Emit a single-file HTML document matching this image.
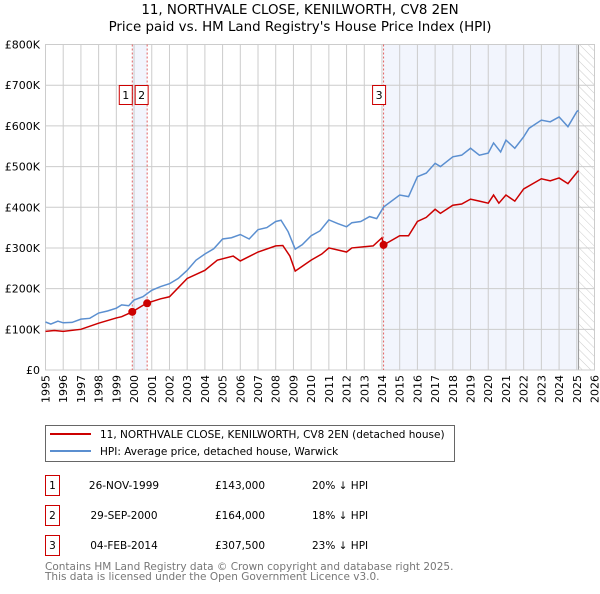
<!DOCTYPE html>
<html><head><meta charset="utf-8"><style>
body{margin:0;background:#fff;font-family:"DejaVu Sans","Liberation Sans",sans-serif;}
svg text{font-family:"DejaVu Sans","Liberation Sans",sans-serif;}
</style></head><body>
<svg id="chart" width="600" height="590" xmlns="http://www.w3.org/2000/svg">
<defs><pattern id="hatch" width="6" height="6" patternUnits="userSpaceOnUse" patternTransform="rotate(-45)"><line x1="0" y1="0" x2="0" y2="6" stroke="#ccc" stroke-width="1"/></pattern></defs>
<text x="300" y="14" text-anchor="middle" font-size="13.4">11, NORTHVALE CLOSE, KENILWORTH, CV8 2EN</text>
<text x="300" y="31" text-anchor="middle" font-size="13.4">Price paid vs. HM Land Registry's House Price Index (HPI)</text>
<g id="plot"></g>
<g>
<rect x="45.5" y="425.5" width="409" height="36" fill="#fff" stroke="#666"/>
<line x1="50" y1="434" x2="91" y2="434" stroke="#cc0000" stroke-width="2"/>
<text x="100" y="438" font-size="10.5">11, NORTHVALE CLOSE, KENILWORTH, CV8 2EN (detached house)</text>
<line x1="50" y1="451" x2="91" y2="451" stroke="#5b8fd0" stroke-width="2"/>
<text x="100" y="455" font-size="10.5">HPI: Average price, detached house, Warwick</text>
</g>
<g id="table" font-size="10.5"></g>
<text x="45" y="570" font-size="10.5" fill="#777">Contains HM Land Registry data © Crown copyright and database right 2025.</text>
<text x="45" y="580" font-size="10.5" fill="#777">This data is licensed under the Open Government Licence v3.0.</text>
</svg>
<script>
const yTicks=[0,100,200,300,400,500,600,700,800];
const xYears=[1995,1996,1997,1998,1999,2000,2001,2002,2003,2004,2005,2006,2007,2008,2009,2010,2011,2012,2013,2014,2015,2016,2017,2018,2019,2020,2021,2022,2023,2024,2025,2026];
const hpiT=[1995,1995.3,1995.7,1996,1996.5,1997,1997.5,1998,1998.5,1999,1999.3,1999.7,2000,2000.5,2001,2001.5,2002,2002.5,2003,2003.5,2004,2004.5,2005,2005.5,2006,2006.5,2007,2007.5,2008,2008.3,2008.7,2009.1,2009.5,2010,2010.5,2011,2011.5,2012,2012.3,2012.8,2013.3,2013.7,2014.1,2015,2015.5,2016,2016.5,2017,2017.3,2018,2018.5,2019,2019.5,2020,2020.3,2020.7,2021,2021.5,2022,2022.3,2023,2023.5,2024,2024.5,2025,2025.1];
const hpiV=[118,113,120,116,117,125,127,140,145,152,160,158,172,180,196,205,212,225,245,270,285,298,322,325,333,322,345,350,365,368,340,297,308,330,342,369,360,352,362,365,377,372,401,430,426,475,484,508,500,524,528,545,528,533,558,536,565,545,573,594,614,610,622,598,635,638];
const redT=[1995,1995.5,1996,1997,1998,1999,1999.3,1999.9,2000.7,2001.5,2002,2003,2004,2004.7,2005.6,2006,2007,2008,2008.4,2008.8,2009.1,2009.5,2010,2010.6,2011,2012,2012.3,2013.5,2014,2014.1,2015,2015.5,2016,2016.5,2017,2017.3,2018,2018.5,2019,2019.5,2020,2020.3,2020.6,2021,2021.5,2022,2023,2023.5,2024,2024.5,2025,2025.1];
const redV=[95,97,95,100,115,128,131,143,164,175,180,225,245,270,280,268,290,305,306,280,243,255,270,285,300,290,300,305,325,307.5,330,330,365,375,395,385,405,408,420,415,410,430,410,430,415,445,470,465,472,458,485,490];
const saleT=[1999.9,2000.74,2014.09];
const saleV=[143,164,307.5];
const saleLabels=["1","2","3"];
const saleDates=["26-NOV-1999","29-SEP-2000","04-FEB-2014"];
const salePrices=["£143,000","£164,000","£307,500"];
const saleDiffs=["20% ↓ HPI","18% ↓ HPI","23% ↓ HPI"];
const X0=45.5,X1=594.5,Y0=370,Y1=44.5;
const x=t=>X0+(t-1995)/(2026-1995)*(X1-X0);
const y=v=>Y0-v/800*(Y0-Y1);
const NS="http://www.w3.org/2000/svg";
const g=document.getElementById('plot');
function mk(tag,a,p){const e=document.createElementNS(NS,tag);for(const k in a)e.setAttribute(k,a[k]);(p||g).appendChild(e);return e;}
let r=mk('rect',{x:x(saleT[2]),y:Y1,width:x(2025.1)-x(saleT[2]),height:Y0-Y1,fill:'#eef2fc',opacity:0.75});


let r2=mk('rect',{x:x(saleT[0]),y:Y1,width:x(saleT[1])-x(saleT[0]),height:Y0-Y1,fill:'#eef2fc',opacity:0.75});


let hz=mk('rect',{x:x(2025.1),y:Y1,width:X1-x(2025.1),height:Y0-Y1,fill:'url(#hatch)'});


yTicks.forEach(v=>{
 mk('line',{x1:X0,x2:X1,y1:y(v*1),y2:y(v*1),stroke:'#ccc'});
 const t=mk('text',{x:40,y:y(v)+4,'text-anchor':'end','font-size':11});
 t.textContent=v===0?'£0':'£'+v+'K';
 
 
});
xYears.forEach(yr=>{
 mk('line',{x1:x(yr),x2:x(yr),y1:Y1,y2:Y0,stroke:'#ccc'});
 const t=mk('text',{x:0,y:0,'font-size':11,'text-anchor':'end',transform:`translate(${x(yr)+4},${Y0+5}) rotate(-90)`});
 t.textContent=yr;
 
 
});
mk('line',{x1:x(2025.1),x2:x(2025.1),y1:Y1,y2:Y0,stroke:'#999'});
mk('rect',{x:X0,y:Y1,width:X1-X0,height:Y0-Y1,fill:'none',stroke:'#ccc'});
saleT.forEach((t,i)=>{
 mk('line',{x1:x(t),x2:x(t),y1:Y1,y2:Y0,stroke:'#e06060','stroke-dasharray':'2,2','stroke-width':1});
});
let hp=mk('polyline',{points:hpiT.map((t,i)=>x(t)+','+y(hpiV[i])).join(' '),fill:'none',stroke:'#5b8fd0','stroke-width':1.5});


let rp=mk('polyline',{points:redT.map((t,i)=>x(t)+','+y(redV[i])).join(' '),fill:'none',stroke:'#cc0000','stroke-width':1.5});


saleT.forEach((t,i)=>{
 const c=mk('circle',{cx:x(t),cy:y(saleV[i]),r:4,fill:'#cc0000'});
 
 
 const bx=i===0?x(t)-13:(i===1?x(t)-12:x(t)-11);
 const b=mk('rect',{x:bx,y:85.5,width:13,height:19,fill:'#fff',stroke:'#cc0000'});
 
 
 const tx=mk('text',{x:bx+6.5,y:99,'text-anchor':'middle','font-size':11});
 tx.textContent=saleLabels[i];
});
const tb=document.getElementById('table');
saleLabels.forEach((l,i)=>{
 const yy=475+i*30;
 const row=mk('g',{},tb);
 
 
 mk('rect',{x:45.5,y:yy+0.5,width:14,height:20,fill:'#fff',stroke:'#cc0000'},row);
 const a=mk('text',{x:52.5,y:yy+14,'text-anchor':'middle'},row);a.textContent=l;
 const d=mk('text',{x:124,y:yy+14,'text-anchor':'middle'},row);d.textContent=saleDates[i];
 const p=mk('text',{x:240,y:yy+14,'text-anchor':'middle'},row);p.textContent=salePrices[i];
 const h=mk('text',{x:312,y:yy+14},row);h.textContent=saleDiffs[i];
});
</script>
</body></html>
